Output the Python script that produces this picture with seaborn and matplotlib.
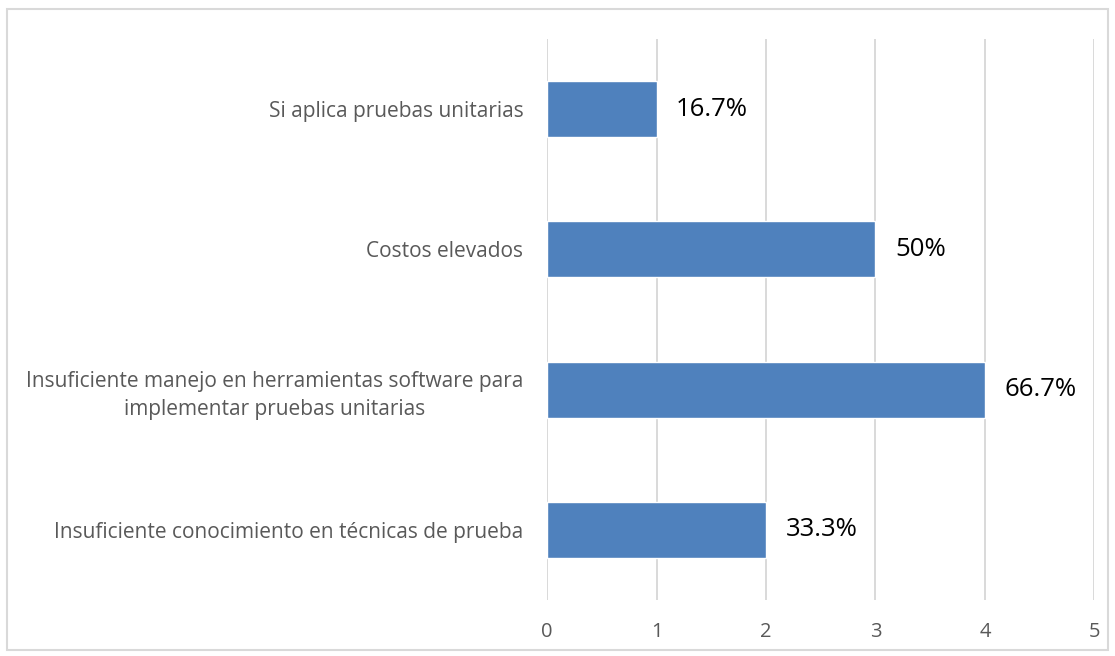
import numpy as np
import pandas as pd
import matplotlib
matplotlib.use('Agg')
import matplotlib.pyplot as plt
import seaborn as sns
from matplotlib.patches import Rectangle

# datos del grafico
categorias = ['Si aplica pruebas unitarias',
              'Costos elevados',
              'Insuficiente manejo en herramientas software para\nimplementar pruebas unitarias',
              'Insuficiente conocimiento en técnicas de prueba']
valores = [1, 3, 4, 2]
etiquetas = ['16.7%', '50%', '66.7%', '33.3%']
ticks_x = [0, 1, 2, 3, 4, 5]

df = pd.DataFrame({'categoria': categorias, 'valor': valores})

sns.set_style('white')
plt.rcParams['font.family'] = ['Open Sans', 'DejaVu Sans']

fig = plt.figure(figsize=(11.15, 6.56), dpi=100)
ax = fig.add_axes([0.4906, 0.0854, 0.4910, 0.8551])

sns.barplot(data=df, x='valor', y='categoria', order=categorias, color='#4f81bd',
            saturation=1, width=0.4, ax=ax)

# etiquetas de datos
ax.bar_label(ax.containers[0], labels=etiquetas, padding=14, fontsize=18.5, color='#000000')

ax.set_xlim(0, 5)
ax.set_xticks(ticks_x)
ax.grid(axis='x', color='#d9d9d9', linewidth=1.4)
ax.set_axisbelow(True)
for s in ax.spines.values():
    s.set_visible(False)
ax.set_xlabel('')
ax.set_ylabel('')
ax.tick_params(axis='x', length=0, pad=16, labelsize=14.5, labelcolor='#595959')
ax.tick_params(axis='y', length=0, pad=17, labelsize=15, labelcolor='#595959')
for t in ax.get_yticklabels():
    t.set_multialignment('center')
    t.set_linespacing(1.45)

# borde del grafico
fig.patches.append(Rectangle((7 / 1115, 1 - 650 / 656), 1101 / 1115, 641 / 656,
                             transform=fig.transFigure, fill=False,
                             edgecolor='#d9d9d9', linewidth=1.5))

fig.savefig('out.png', dpi=100)
